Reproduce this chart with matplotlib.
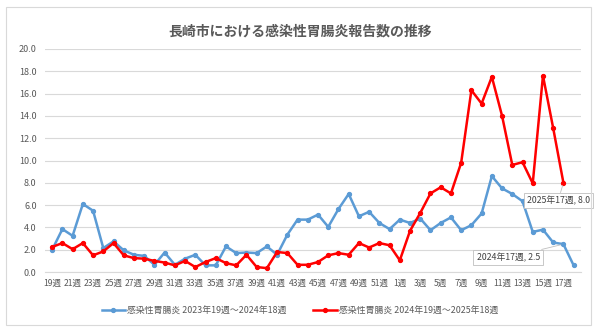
import matplotlib.pyplot as plt
from matplotlib.patches import FancyBboxPatch

plt.rcParams['font.family'] = ['Noto Sans CJK JP', 'DejaVu Sans']

weeks = list(range(19, 53)) + list(range(1, 19))
week_labels = [f'{w}週' for w in weeks]

blue = [2.0, 3.85, 3.25, 6.1, 5.5, 2.15, 2.75, 1.95, 1.55, 1.45,
        0.65, 1.75, 0.65, 1.2, 1.55, 0.6, 0.6, 2.3, 1.7, 1.75,
        1.7, 2.3, 1.55, 3.35, 4.7, 4.7, 5.15, 4.05, 5.65, 7.0,
        5.0, 5.4, 4.4, 3.85, 4.7, 4.4, 4.8, 3.75, 4.4, 4.9,
        3.75, 4.2, 5.25, 8.6, 7.5, 7.0, 6.35, 3.6, 3.8, 2.65,
        2.5, 0.6]
red = [2.25, 2.6, 2.05, 2.6, 1.5, 1.85, 2.6, 1.5, 1.25, 1.2,
       1.0, 0.85, 0.6, 1.0, 0.45, 0.9, 1.25, 0.8, 0.6, 1.55,
       0.45, 0.35, 1.8, 1.7, 0.65, 0.65, 0.9, 1.5, 1.7, 1.55,
       2.6, 2.2, 2.6, 2.4, 1.05, 3.7, 5.3, 7.05, 7.6, 7.05,
       9.8, 16.3, 15.1, 17.5, 14.0, 9.6, 9.85, 7.95, 17.6, 12.9,
       8.0]

blue_name = '感染性胃腸炎 2023年19週～2024年18週'
red_name = '感染性胃腸炎 2024年19週～2025年18週'
title = '長崎市における感染性胃腸炎報告数の推移'

fig = plt.figure(figsize=(6, 3.33), dpi=100)
fig.patches.append(FancyBboxPatch((0.01, 0.025), 0.975, 0.955, boxstyle='square,pad=0',
                                  transform=fig.transFigure, fill=False,
                                  edgecolor='#d9d9d9', linewidth=0.8))
ax = fig.add_axes([0.075, 0.183, 0.893, 0.67])

x = list(range(len(weeks)))
ax.plot(x, blue, color='#5B9BD5', linewidth=1.8, marker='o', markersize=2.8, label=blue_name, zorder=3)
ax.plot(x[:len(red)], red, color='#FF0000', linewidth=1.8, marker='o', markersize=2.8, label=red_name, zorder=4)

ax.set_ylim(0, 20)
ax.set_yticks([i * 2 for i in range(11)])
ax.set_yticklabels([f'{i * 2:.1f}' for i in range(11)])
ax.set_xlim(-0.7, len(weeks) - 0.3)
ax.set_xticks(x[::2])
ax.set_xticklabels(week_labels[::2])
ax.tick_params(axis='x', length=0, labelsize=6.2, colors='#595959', pad=5)
ax.tick_params(axis='y', length=0, labelsize=6.5, colors='#595959', pad=6)
ax.grid(axis='y', color='#d9d9d9', linewidth=0.8)
ax.set_axisbelow(True)
for s in ['top', 'right', 'left']:
    ax.spines[s].set_visible(False)
ax.spines['bottom'].set_color('#d9d9d9')

fig.text(0.5, 0.904, title, ha='center', va='center', fontsize=10, color='#595959', fontweight='bold')

box = dict(boxstyle='square,pad=0.35', fc='white', ec='#bfbfbf', lw=0.6)
ax.annotate('2025年17週, 8.0', xy=(50, red[50]), xytext=(46.4, 6.4), fontsize=6.3, color='#404040',
            ha='left', va='center', bbox=box,
            arrowprops=dict(arrowstyle='-', color='#bfbfbf', lw=0.6, shrinkA=0, shrinkB=2), zorder=6)
ax.annotate('2024年17週, 2.5', xy=(50, blue[50]), xytext=(41.5, 1.3), fontsize=6.3, color='#404040',
            ha='left', va='center', bbox=box,
            arrowprops=dict(arrowstyle='-', color='#bfbfbf', lw=0.6, shrinkA=0, shrinkB=2), zorder=6)

fig.legend(loc='center', bbox_to_anchor=(0.5, 0.066), ncol=2, frameon=False, fontsize=6.4,
           labelcolor='#595959', handlelength=2.6, handletextpad=0.3, columnspacing=3.0)

fig.savefig('out.png', dpi=100)
